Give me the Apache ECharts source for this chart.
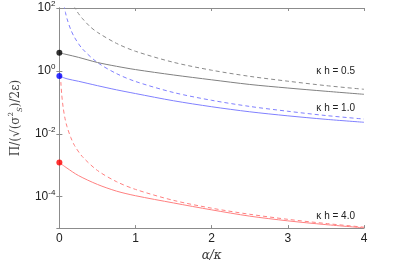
<!DOCTYPE html>
<html>
<head>
<meta charset="utf-8">
<script src="https://cdn.jsdelivr.net/npm/echarts@6/dist/echarts.min.js"></script>
<style>html,body{margin:0;padding:0;background:#fff}#c{width:399px;height:267px}</style>
</head>
<body>
<div id="c"></div>
<script>
// alpha/kappa sample points and values
var alphaSolid = [0, 0.1, 0.25, 0.5, 0.75, 1, 1.5, 2, 2.5, 3, 3.5, 4];
var blackSolid = [3.74, 3.3, 2.7, 1.85, 1.4, 1.1, 0.74, 0.52, 0.37, 0.285, 0.225, 0.18];
var blueSolid  = [0.684, 0.56, 0.468, 0.339, 0.25, 0.19, 0.112, 0.0724, 0.050, 0.0372, 0.0288, 0.0232];
var redSolid   = [1.21e-3, 8.1e-4, 4.7e-4, 2.45e-4, 1.5e-4, 1.07e-4, 6.3e-5, 3.8e-5, 2.4e-5, 1.7e-5, 1.29e-5, 1.02e-5];

var alphaBlackDash = [0.19, 0.2, 0.25, 0.3, 0.4, 0.5, 0.75, 1, 1.5, 2, 2.5, 3, 3.5, 4];
var blackDash      = [116, 105, 67, 47, 26, 16.8, 7.5, 4.2, 1.87, 1.05, 0.67, 0.47, 0.34, 0.26];
var alphaBlueDash  = [0.06, 0.08, 0.1, 0.15, 0.2, 0.3, 0.5, 0.75, 1, 1.5, 2, 2.5, 3, 3.5, 4];
var blueDash       = [128, 72, 46, 20.4, 11.5, 5.1, 1.85, 0.82, 0.46, 0.205, 0.116, 0.074, 0.052, 0.038, 0.0294];
var alphaRedDash   = [0.015, 0.02, 0.03, 0.05, 0.075, 0.1, 0.15, 0.2, 0.3, 0.5, 0.75, 1, 1.5, 2, 2.5, 3, 3.5, 4];
var redDash        = [0.75, 0.42, 0.19, 0.068, 0.030, 0.017, 7.6e-3, 4.2e-3, 1.9e-3, 6.8e-4, 3.0e-4, 1.7e-4, 7.6e-5, 4.3e-5, 2.75e-5, 1.9e-5, 1.4e-5, 1.07e-5];

var xTicks = [0, 1, 2, 3, 4];
var yTickExps = [-4, -2, 0, 2];
var curveLabels = ['κ h = 0.5', 'κ h = 1.0', 'κ h = 4.0'];

function pairs(xs, ys) { return xs.map(function (x, i) { return [x, ys[i]]; }); }

var axisColor = '#8c8c8c';
var chart = echarts.init(document.getElementById('c'), null, {renderer: 'canvas'});

function lineSeries(xs, ys, color, dashed) {
  return {
    type: 'line', data: pairs(xs, ys), smooth: 0.3, showSymbol: false, symbol: 'none',
    clip: true, silent: true,
    lineStyle: {color: color, width: 1, type: dashed ? [4, 3] : 'solid'}
  };
}
function dot(ys, color) {
  return {
    type: 'scatter', data: [[alphaSolid[0], ys[0]]], symbolSize: 6, clip: false,
    itemStyle: {color: color}, z: 5, silent: true
  };
}

var tickStyle = {inside: true, length: 3, lineStyle: {color: axisColor, width: 1}};
var lineStyleAxis = {show: true, lineStyle: {color: axisColor, width: 1}};

chart.setOption({
  animation: false,
  grid: {left: 59, right: 35, top: 6, bottom: 34},
  xAxis: [{
    type: 'value', min: xTicks[0], max: xTicks[xTicks.length - 1], interval: 1, position: 'bottom',
    axisLine: lineStyleAxis, axisTick: tickStyle, splitLine: {show: false},
    axisLabel: {color: '#222', fontSize: 12, fontFamily: 'Liberation Sans', margin: 5},
    name: 'α/κ', nameLocation: 'middle', nameGap: 16,
    nameTextStyle: {color: '#333', fontSize: 12, fontStyle: 'italic', fontFamily: 'DejaVu Serif'}
  }, {
    type: 'value', min: xTicks[0], max: xTicks[xTicks.length - 1], interval: 1, position: 'top',
    axisLine: lineStyleAxis, axisTick: tickStyle, axisLabel: {show: false}, splitLine: {show: false}
  }],
  yAxis: [{
    type: 'log', logBase: 100, min: 1e-5, max: 100, position: 'left',
    axisLine: lineStyleAxis, axisTick: tickStyle, splitLine: {show: false}, minorTick: {show: false},
    axisLabel: {
      margin: 4,
      formatter: function (v) {
        var e = Math.round(Math.log10(v));
        if (yTickExps.indexOf(e) < 0) return '';
        return '{b|10}{s|' + e + '}';
      },
      rich: {
        b: {fontSize: 12, color: '#222', fontFamily: 'Liberation Sans', lineHeight: 16},
        s: {fontSize: 8, color: '#222', fontFamily: 'Liberation Sans', verticalAlign: 'top', lineHeight: 16}
      }
    },
    name: '{n|Π/(√(σ}{sp|2}{sb|S}{n|)/2ε)}', nameLocation: 'middle', nameGap: 30, nameRotate: 90,
    nameTextStyle: {
      color: '#444', fontSize: 12, fontFamily: 'DejaVu Serif',
      rich: {
        n: {fontSize: 12, color: '#444', fontFamily: 'DejaVu Serif', lineHeight: 16},
        sp: {fontSize: 7, color: '#444', fontFamily: 'DejaVu Serif', verticalAlign: 'top', lineHeight: 16},
        sb: {fontSize: 7, color: '#444', fontFamily: 'DejaVu Serif', fontStyle: 'italic', verticalAlign: 'bottom', lineHeight: 16}
      }
    }
  }, {
    type: 'log', logBase: 100, min: 1e-5, max: 100, position: 'right',
    axisLine: lineStyleAxis, axisTick: tickStyle, axisLabel: {show: false}, splitLine: {show: false}
  }],
  graphic: [
    {type: 'text', right: 44, top: 66, style: {text: curveLabels[0], fontSize: 10, fill: '#222', fontFamily: 'Liberation Sans'}},
    {type: 'text', right: 44, top: 103, style: {text: curveLabels[1], fontSize: 10, fill: '#222', fontFamily: 'Liberation Sans'}},
    {type: 'text', right: 44, top: 211, style: {text: curveLabels[2], fontSize: 10, fill: '#222', fontFamily: 'Liberation Sans'}}
  ],
  series: [
    lineSeries(alphaBlackDash, blackDash, '#8a8a8a', true),
    lineSeries(alphaBlueDash, blueDash, '#8080ff', true),
    lineSeries(alphaRedDash, redDash, '#ff8080', true),
    lineSeries(alphaSolid, blackSolid, '#808080', false),
    lineSeries(alphaSolid, blueSolid, '#8080ff', false),
    lineSeries(alphaSolid, redSolid, '#ff8080', false),
    dot(blackSolid, '#000000'),
    dot(blueSolid, '#0000ff'),
    dot(redSolid, '#ff0000')
  ]
});
</script>
</body>
</html>
